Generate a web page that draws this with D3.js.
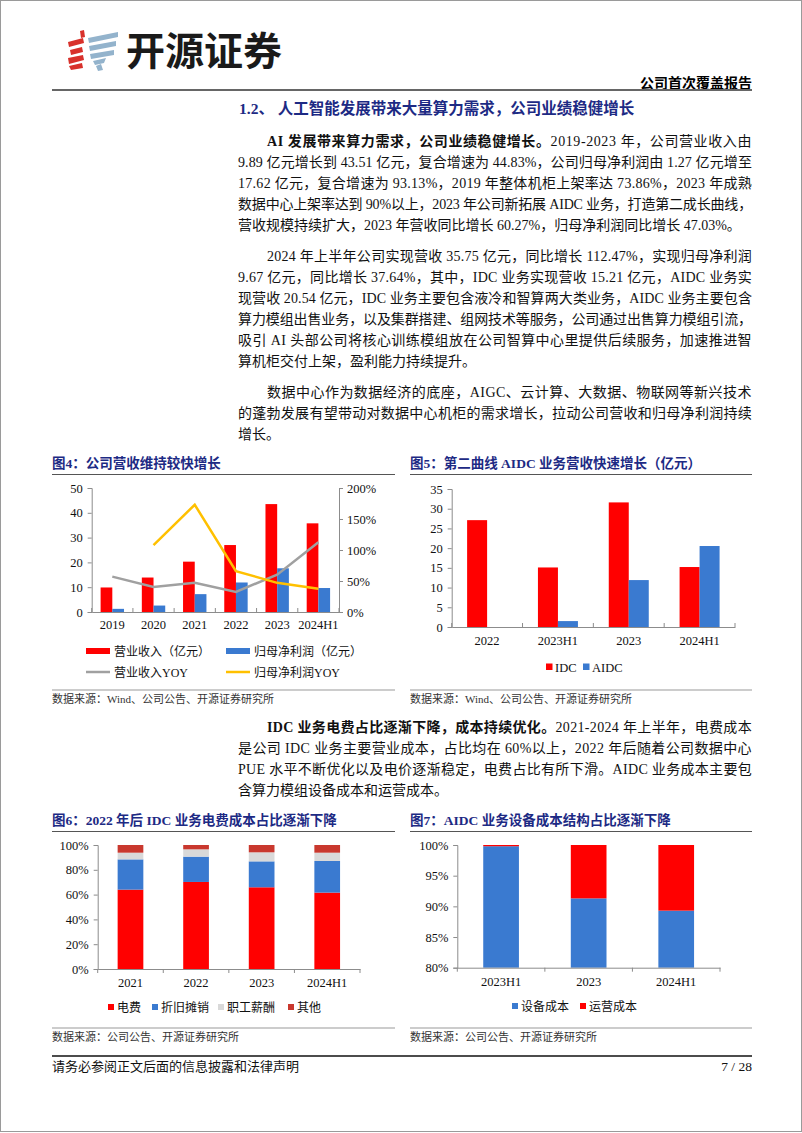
<!DOCTYPE html>
<html><head><meta charset="utf-8">
<script src="https://cdn.jsdelivr.net/npm/d3@7"></script>
<style>
html,body{margin:0;padding:0;background:#fff;}
svg{display:block;}
text{font-family:"Liberation Serif","Noto Sans CJK SC",serif;}
</style></head>
<body><svg id="page" width="802" height="1133"></svg>
<script>
// ---------- DATA ----------
const cats4 = ['2019','2020','2021','2022','2023','2024H1'];
const revenue = [9.89, 13.9, 20.3, 27.0, 43.51, 35.75];
const netProfit = [1.27, 2.6, 7.2, 11.9, 17.62, 9.67];
const revenueYoY = [0.57, 0.405, 0.47, 0.325, 0.6027, 1.1247];
const netProfitYoY = [null, 1.08, 1.73, 0.66, 0.4703, 0.3764];
const ticks4L = [0,10,20,30,40,50];
const ticks4R = [0,0.5,1,1.5,2];

const cats5 = ['2022','2023H1','2023','2024H1'];
const idc = [27.1, 15.1, 31.6, 15.21];
const aidc = [0, 1.5, 11.9, 20.54];
const ticks5 = [0,5,10,15,20,25,30,35];

const cats6 = ['2021','2022','2023','2024H1'];
const elec = [0.64, 0.702, 0.659, 0.616];
const depr = [0.244, 0.204, 0.209, 0.255];
const salary = [0.054, 0.059, 0.073, 0.067];
const other = [0.062, 0.035, 0.059, 0.062];
const ticks6 = [0,0.2,0.4,0.6,0.8,1];

const cats7 = ['2023H1','2023','2024H1'];
const equip = [0.998, 0.913, 0.893];
const oper = [0.002, 0.087, 0.107];
const ticks7 = [0.8,0.85,0.9,0.95,1];

const para1 = [
 {runs:[{t:'AI 发展带来算力需求，公司业绩稳健增长。',b:1},{t:'2019-2023 年，公司营业收入由'}], ind:1, j:1},
 {runs:[{t:'9.89 亿元增长到 43.51 亿元，复合增速为 44.83%，公司归母净利润由 1.27 亿元增至'}], j:1},
 {runs:[{t:'17.62 亿元，复合增速为 93.13%，2019 年整体机柜上架率达 73.86%，2023 年成熟'}], j:1},
 {runs:[{t:'数据中心上架率达到 90%以上，2023 年公司新拓展 AIDC 业务，打造第二成长曲线，'}], j:1},
 {runs:[{t:'营收规模持续扩大，2023 年营收同比增长 60.27%，归母净利润同比增长 47.03%。'}]}
];
const para2 = [
 {runs:[{t:'2024 年上半年公司实现营收 35.75 亿元，同比增长 112.47%，实现归母净利润'}], ind:1, j:1},
 {runs:[{t:'9.67 亿元，同比增长 37.64%，其中，IDC 业务实现营收 15.21 亿元，AIDC 业务实'}], j:1},
 {runs:[{t:'现营收 20.54 亿元，IDC 业务主要包含液冷和智算两大类业务，AIDC 业务主要包含'}], j:1},
 {runs:[{t:'算力模组出售业务，以及集群搭建、组网技术等服务，公司通过出售算力模组引流，'}], j:1},
 {runs:[{t:'吸引 AI 头部公司将核心训练模组放在公司智算中心里提供后续服务，加速推进智'}], j:1},
 {runs:[{t:'算机柜交付上架，盈利能力持续提升。'}]}
];
const para3 = [
 {runs:[{t:'数据中心作为数据经济的底座，AIGC、云计算、大数据、物联网等新兴技术'}], ind:1, j:1},
 {runs:[{t:'的蓬勃发展有望带动对数据中心机柜的需求增长，拉动公司营收和归母净利润持续'}], j:1},
 {runs:[{t:'增长。'}]}
];
const para4 = [
 {runs:[{t:'IDC 业务电费占比逐渐下降，成本持续优化。',b:1},{t:'2021-2024 年上半年，电费成本'}], ind:1, j:1},
 {runs:[{t:'是公司 IDC 业务主要营业成本，占比均在 60%以上，2022 年后随着公司数据中心'}], j:1},
 {runs:[{t:'PUE 水平不断优化以及电价逐渐稳定，电费占比有所下滑。AIDC 业务成本主要包'}], j:1},
 {runs:[{t:'含算力模组设备成本和运营成本。'}]}
];

// ---------- STYLE ----------
const RED = '#FF0000', BLUE = '#3A7AD0', GREY = '#A0A0A0', YEL = '#FFC000', LGREY = '#D9D9D9', DRED = '#C9382E';
const NAVY = '#1D2A84', AXIS = '#8C8C8C';

const svg = d3.select('#page');
svg.append('rect').attr('x',0.5).attr('y',0.5).attr('width',801).attr('height',1131).attr('fill','#fff').attr('stroke','#9a9a9a');

// ---------- HEADER ----------
const logo = svg.append('g');
const redPolys = [
 [[80,31],[84,30],[85,37],[81,38]],
 [[68,42],[83,38],[84,43],[69,47]],
 [[70,50],[82,47],[83,52],[71,55]],
 [[68,58],[83,55],[84,60],[69,64]],
 [[69,66],[82,63],[83,68],[71,70]]
];
const bluePolys = [
 [[88,38],[118,32],[118,37],[89,43]],
 [[89,46],[116,41],[116,46],[90,51]],
 [[90,54],[114,50],[114,55],[91,59]],
 [[93,61],[106,58],[104,63],[95,65]],
 [[96,66],[101,64],[103,70],[98,71]]
];
redPolys.forEach(p=>logo.append('polygon').attr('points',p.map(d=>d.join(',')).join(' ')).attr('fill','#D8312B'));
bluePolys.forEach(p=>logo.append('polygon').attr('points',p.map(d=>d.join(',')).join(' ')).attr('fill','#93B3CC'));
svg.append('text').attr('x',126).attr('y',65).attr('font-size',39).attr('font-weight',700)
  .style('font-family','"Noto Sans CJK SC",sans-serif').attr('fill','#1a1a1a').text('开源证券');
svg.append('text').attr('x',752).attr('y',88).attr('text-anchor','end').attr('font-size',14).attr('font-weight',700).text('公司首次覆盖报告');
svg.append('line').attr('x1',52).attr('x2',752).attr('y1',90).attr('y2',90).attr('stroke','#666').attr('stroke-width',2);
svg.append('text').attr('x',239).attr('y',114).attr('font-size',15.5).attr('font-weight',700).attr('fill',NAVY).text('1.2、 人工智能发展带来大量算力需求，公司业绩稳健增长');

// ---------- BODY TEXT ----------
const LEFT = 238, RIGHT = 752, IND = 29;
function drawPara(lines, y0, lh){
  lines.forEach((ln,i)=>{
    const x = LEFT + (ln.ind?IND:0);
    const t = svg.append('text').attr('x',x).attr('y',y0+i*lh).attr('font-size',14).attr('fill','#111');
    let n = 0;
    ln.runs.forEach(r=>{ t.append('tspan').attr('font-weight', r.b?700:400).text(r.t); n += [...r.t].length; });
    if (ln.j){
      const w = t.node().getComputedTextLength();
      const target = RIGHT - x;
      t.style('letter-spacing', ((target - w)/n) + 'px');
    }
  });
}
drawPara(para1, 146, 21);
drawPara(para2, 261, 21);
drawPara(para3, 397, 20.8);
drawPara(para4, 732, 21);

// ---------- helpers ----------
function chartTitle(x1,x2,y,txt){
  svg.append('text').attr('x',x1).attr('y',y).attr('font-size',13.5).attr('font-weight',700).attr('fill',NAVY).text(txt);
  svg.append('line').attr('x1',x1).attr('x2',x2).attr('y1',y+6.5).attr('y2',y+6.5).attr('stroke','#555').attr('stroke-width',1.2);
}
function source(x1,x2,y,txt){
  svg.append('line').attr('x1',x1).attr('x2',x2).attr('y1',y).attr('y2',y).attr('stroke','#999').attr('stroke-width',1);
  svg.append('text').attr('x',x1).attr('y',y+13).attr('font-size',11).attr('fill','#333').text(txt);
}
function styleAxis(g){
  g.select('.domain').attr('stroke',AXIS);
  g.selectAll('.tick line').attr('stroke',AXIS);
  g.selectAll('.tick text').attr('font-size',12.5).attr('fill','#111').style('font-family','"Liberation Serif",serif');
}
function catTicks(x, y0, dir){
  const b = x.domain().map(d=>x(d)).concat([x.range()[1]]);
  b.forEach(v=>svg.append('line').attr('x1',v).attr('x2',v).attr('y1',y0).attr('y2',y0+dir*4).attr('stroke',AXIS));
}
const pct = d3.format('.0%');

// ---------- FIG 4 ----------
chartTitle(52,395,468,'图4：公司营收维持较快增长');
{
  const x = d3.scaleBand().domain(cats4).range([91.7,339]);
  const yL = d3.scaleLinear().domain([0,50]).range([612,488]);
  const yR = d3.scaleLinear().domain([0,2]).range([612,488]);
  const bw = 11.7;
  const g = svg.append('g');
  g.selectAll('.r').data(cats4).join('rect').attr('x',d=>x(d)+x.bandwidth()/2-bw).attr('width',bw)
    .attr('y',(d,i)=>yL(revenue[i])).attr('height',(d,i)=>yL(0)-yL(revenue[i])).attr('fill',RED);
  g.selectAll('.b').data(cats4).join('rect').attr('x',d=>x(d)+x.bandwidth()/2).attr('width',bw)
    .attr('y',(d,i)=>yL(netProfit[i])).attr('height',(d,i)=>yL(0)-yL(netProfit[i])).attr('fill',BLUE);
  const ax = svg.append('g').attr('transform','translate(91.7,0)').call(d3.axisLeft(yL).tickValues(ticks4L).tickSize(4).tickPadding(5));
  styleAxis(ax);
  const ar = svg.append('g').attr('transform','translate(339,0)').call(d3.axisRight(yR).tickValues(ticks4R).tickSize(4).tickPadding(4).tickFormat(pct));
  styleAxis(ar);
  const xb = svg.append('g').attr('transform','translate(0,612)').call(d3.axisBottom(x).tickSize(0).tickPadding(8));
  styleAxis(xb); xb.select('.domain').attr('stroke',AXIS);
  catTicks(x,612,-1);
  const ln = d3.line().defined(d=>d[1]!=null).x(d=>x(d[0])+x.bandwidth()/2).y(d=>yR(d[1]));
  svg.append('path').attr('d',ln(cats4.map((c,i)=>[c,revenueYoY[i]]))).attr('fill','none').attr('stroke',GREY).attr('stroke-width',2.5);
  svg.append('path').attr('d',ln(cats4.map((c,i)=>[c,netProfitYoY[i]]))).attr('fill','none').attr('stroke',YEL).attr('stroke-width',2.5);
  // legend
  const lg = [
    {type:'rect',c:RED,t:'营业收入（亿元）',x:86,y:651},
    {type:'rect',c:BLUE,t:'归母净利润（亿元）',x:226,y:651},
    {type:'line',c:GREY,t:'营业收入YOY',x:86,y:672},
    {type:'line',c:YEL,t:'归母净利润YOY',x:226,y:672}
  ];
  lg.forEach(l=>{
    if(l.type==='rect') svg.append('rect').attr('x',l.x).attr('y',l.y-3).attr('width',24).attr('height',6).attr('fill',l.c);
    else svg.append('line').attr('x1',l.x).attr('x2',l.x+24).attr('y1',l.y).attr('y2',l.y).attr('stroke',l.c).attr('stroke-width',2.5);
    svg.append('text').attr('x',l.x+28).attr('y',l.y+4.5).attr('font-size',12).attr('fill','#111').text(l.t);
  });
}
source(52,395,690,'数据来源：Wind、公司公告、开源证券研究所');

// ---------- FIG 5 ----------
chartTitle(410,752,468,'图5：第二曲线 AIDC 业务营收快速增长（亿元）');
{
  const x = d3.scaleBand().domain(cats5).range([451.7,735]);
  const y = d3.scaleLinear().domain([0,35]).range([627,489]);
  const bw = 20;
  svg.selectAll('.r5').data(cats5).join('rect').attr('x',d=>x(d)+x.bandwidth()/2-bw).attr('width',bw)
    .attr('y',(d,i)=>y(idc[i])).attr('height',(d,i)=>y(0)-y(idc[i])).attr('fill',RED);
  svg.selectAll('.b5').data(cats5).join('rect').attr('x',d=>x(d)+x.bandwidth()/2).attr('width',bw)
    .attr('y',(d,i)=>y(aidc[i])).attr('height',(d,i)=>y(0)-y(aidc[i])).attr('fill',BLUE);
  const ay = svg.append('g').attr('transform','translate(451.7,0)').call(d3.axisLeft(y).tickValues(ticks5).tickSize(4).tickPadding(5));
  styleAxis(ay);
  const xb = svg.append('g').attr('transform','translate(0,627)').call(d3.axisBottom(x).tickSize(0).tickPadding(9));
  styleAxis(xb);
  catTicks(x,627,-1);
  [{c:RED,t:'IDC',x:546},{c:BLUE,t:'AIDC',x:583}].forEach(l=>{
    svg.append('rect').attr('x',l.x).attr('y',663.5).attr('width',6.5).attr('height',6.5).attr('fill',l.c);
    svg.append('text').attr('x',l.x+9).attr('y',671.5).attr('font-size',12.5).attr('fill','#111').style('font-family','"Liberation Serif",serif').text(l.t);
  });
}
source(410,752,690,'数据来源：Wind、公司公告、开源证券研究所');

// ---------- FIG 6 ----------
chartTitle(52,395,825,'图6：2022 年后 IDC 业务电费成本占比逐渐下降');
{
  const x = d3.scaleBand().domain(cats6).range([97.7,360]);
  const y = d3.scaleLinear().domain([0,1]).range([969,845]);
  const bw = 25.7;
  const series = [{v:elec,c:RED,n:'电费'},{v:depr,c:BLUE,n:'折旧摊销'},{v:salary,c:LGREY,n:'职工薪酬'},{v:other,c:DRED,n:'其他'}];
  const table = cats6.map((c,i)=>({cat:c,elec:elec[i],depr:depr[i],salary:salary[i],other:other[i]}));
  const stack = d3.stack().keys(['elec','depr','salary','other'])(table);
  stack.forEach((s,k)=>{
    svg.append('g').selectAll('rect').data(s).join('rect')
      .attr('x',d=>x(d.data.cat)+x.bandwidth()/2-bw/2).attr('width',bw)
      .attr('y',d=>y(d[1])).attr('height',d=>y(d[0])-y(d[1])).attr('fill',series[k].c);
  });
  const ay = svg.append('g').attr('transform','translate(97.7,0)').call(d3.axisLeft(y).tickValues(ticks6).tickSize(4).tickPadding(5).tickFormat(pct));
  styleAxis(ay);
  const xb = svg.append('g').attr('transform','translate(0,969)').call(d3.axisBottom(x).tickSize(0).tickPadding(9));
  styleAxis(xb);
  catTicks(x,969,1);
  const lx = [108,152,218,288];
  series.forEach((s,k)=>{
    svg.append('rect').attr('x',lx[k]).attr('y',1004).attr('width',6).attr('height',6).attr('fill',s.c);
    svg.append('text').attr('x',lx[k]+9).attr('y',1011.5).attr('font-size',12).attr('fill','#111').text(s.n);
  });
}
source(52,395,1028,'数据来源：公司公告、开源证券研究所');

// ---------- FIG 7 ----------
chartTitle(410,752,825,'图7：AIDC 业务设备成本结构占比逐渐下降');
{
  const x = d3.scaleBand().domain(cats7).range([457.3,720]);
  const y = d3.scaleLinear().domain([0.8,1]).range([967.7,845]);
  const bw = 35.7;
  svg.selectAll('.e7').data(cats7).join('rect').attr('x',d=>x(d)+x.bandwidth()/2-bw/2).attr('width',bw)
    .attr('y',(d,i)=>y(equip[i])).attr('height',(d,i)=>y(0.8)-y(equip[i])).attr('fill',BLUE);
  svg.selectAll('.o7').data(cats7).join('rect').attr('x',d=>x(d)+x.bandwidth()/2-bw/2).attr('width',bw)
    .attr('y',(d,i)=>y(equip[i]+oper[i])).attr('height',(d,i)=>y(equip[i])-y(equip[i]+oper[i])).attr('fill',RED);
  const ay = svg.append('g').attr('transform','translate(457.3,0)').call(d3.axisLeft(y).tickValues(ticks7).tickSize(4).tickPadding(5).tickFormat(pct));
  styleAxis(ay);
  const xb = svg.append('g').attr('transform','translate(0,967.7)').call(d3.axisBottom(x).tickSize(0).tickPadding(9));
  styleAxis(xb);
  catTicks(x,967.7,1);
  [{c:BLUE,t:'设备成本',x:512},{c:RED,t:'运营成本',x:580}].forEach(l=>{
    svg.append('rect').attr('x',l.x).attr('y',1003).attr('width',6).attr('height',6).attr('fill',l.c);
    svg.append('text').attr('x',l.x+9).attr('y',1010.5).attr('font-size',12).attr('fill','#111').text(l.t);
  });
}
source(410,752,1028,'数据来源：公司公告、开源证券研究所');

// ---------- FOOTER ----------
svg.append('line').attr('x1',52).attr('x2',752).attr('y1',1056).attr('y2',1056).attr('stroke','#111').attr('stroke-width',1.5);
svg.append('text').attr('x',52).attr('y',1071).attr('font-size',13).attr('fill','#111').text('请务必参阅正文后面的信息披露和法律声明');
svg.append('text').attr('x',752).attr('y',1071).attr('text-anchor','end').attr('font-size',13.5).attr('fill','#111').text('7 / 28');
</script></body></html>
